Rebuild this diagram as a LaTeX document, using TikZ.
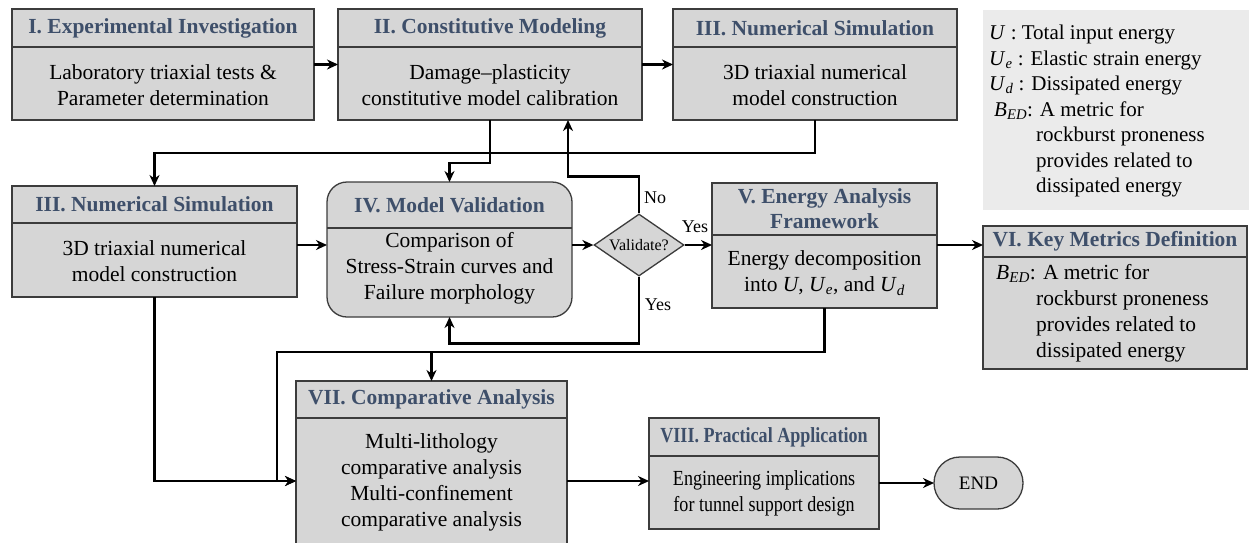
\documentclass[tikz,border=0pt]{standalone}
\usepackage{fontspec}
\setmainfont{Liberation Serif}
\newfontfamily\narrowserif{Liberation Serif}[FakeStretch=0.84]
\usetikzlibrary{arrows.meta,shapes.geometric}

\definecolor{hdrblue}{RGB}{62,79,106}
\definecolor{boxfill}{HTML}{D6D6D6}
\definecolor{boxline}{HTML}{3C3C3C}
\definecolor{notefill}{HTML}{EBEBEB}

\tikzset{
  box/.style={draw=boxline, line width=1.3pt, fill=boxfill, inner sep=0pt, outer sep=0pt},
  divider/.style={draw=boxline, line width=1.3pt},
  hdr/.style={font=\bfseries\fontsize{21.5}{25}\selectfont, text=hdrblue, align=center, inner sep=0pt},
  txt/.style={font=\fontsize{21.5}{26}\selectfont, align=center, inner sep=0pt},
  lbl/.style={font=\fontsize{18}{20}\selectfont, inner sep=0pt},
  arr/.style={line width=2.4pt, -{Stealth[length=11pt,width=10pt,inset=3.5pt]}},
}

% stage box: name, x1, y1, x2, y2, divider y, header, body, body centre y
\newcommand\stagebox[9]{%
  \pgfmathsetmacro\sbw{#4-#2}%
  \pgfmathsetmacro\sbh{#5-#3}%
  \node[box, minimum width=\sbw pt, minimum height=\sbh pt] (#1) at ({(#2+#4)/2},{(#3+#5)/2}) {};
  \draw[divider] (#2,#6) -- (#4,#6);
  \node[hdr] (#1h) at ({(#2+#4)/2},{(#3+#6)/2}) {#7};
  \node[txt] (#1b) at ({(#2+#4)/2},#9) {#8};
}

\newcommand\ital[1]{\textit{#1}}
\newcommand\subit[2]{\textit{#1}\textsubscript{\textit{#2}}}

\begin{document}
\begin{tikzpicture}[x=1pt, y=-1pt]
  \path[fill=white, use as bounding box] (0,0) rectangle (1249,542);

  % top row
  \stagebox{s1}{12}{9}{314}{120}{47}{I. Experimental Investigation}{Laboratory triaxial tests \&\\Parameter determination}{85}
  \stagebox{s2}{338}{9}{642}{120}{47}{II. Constitutive Modeling}{Damage--plasticity\\constitutive model calibration}{85}
  \stagebox{s3a}{673}{9}{957}{120}{47}{III. Numerical Simulation}{3D triaxial numerical\\model construction}{85}

  % notation panel
  \node[fill=notefill, minimum width=266pt, minimum height=200pt, anchor=north west, inner sep=0pt] (note) at (983,10) {};
  \node[anchor=north west, inner sep=0pt, align=left, font=\fontsize{21}{25.5}\selectfont] (notetext) at (989,25)
    {\ital{U} : Total input energy\\
     \subit{U}{e} : Elastic strain energy\\
     \subit{U}{d} : Dissipated energy\\
     \hspace*{5pt}\subit{B}{ED}: A metric for\\
     \hspace*{47pt}rockburst proneness\\
     \hspace*{47pt}provides related to\\
     \hspace*{47pt}dissipated energy};

  % middle row
  \stagebox{s3b}{12}{186}{297}{297}{223}{III. Numerical Simulation}{3D triaxial numerical\\model construction}{261}

  \node[box, rounded corners=20pt, minimum width=245pt, minimum height=135pt] (s4) at (449.5,249.5) {};
  \draw[divider] (327,228) -- (572,228);
  \node[hdr] (s4h) at (449.5,205) {IV. Model Validation};
  \node[txt] (s4b) at (449.5,268.5) {Comparison of\\Stress-Strain curves and\\Failure morphology};

  \node[diamond, draw=boxline, fill=boxfill, line width=1.3pt, minimum width=90pt, minimum height=62pt,
        inner sep=0pt, aspect=1.45, font=\fontsize{16}{18}\selectfont] (dia) at (639,245) {Validate?};

  \stagebox{s5}{712}{183}{937}{308}{235}{V. Energy Analysis\\Framework}{Energy decomposition\\into \ital{U}, \subit{U}{e}, and \subit{U}{d}}{273}

  \stagebox{s6}{983}{226}{1247}{369}{257}{VI. Key Metrics Definition}{}{313}
  \node[txt, anchor=west, align=left] (s6t) at (996,313)
    {\subit{B}{ED}: A metric for\\
     \hspace*{40pt}rockburst proneness\\
     \hspace*{40pt}provides related to\\
     \hspace*{40pt}dissipated energy};

  % bottom row
  \stagebox{s7}{296}{381}{567}{581}{418}{VII. Comparative Analysis}{Multi-lithology\\comparative analysis\\Multi-confinement\\comparative analysis}{482}
  \stagebox{s8}{649}{418}{879}{529}{456}{\narrowserif\bfseries VIII. Practical Application}{\narrowserif Engineering implications\\\narrowserif for tunnel support design}{493}
  \node[box, rounded corners=25.9pt, minimum width=89pt, minimum height=52pt, font=\fontsize{19}{22}\selectfont] (fin) at (978.5,483) {END};

  % junctions on the return line
  \coordinate (j1) at (277,352);
  \coordinate (j2) at (431.5,352);

  % connectors
  \draw[arr] (s1.east) -- (s2.west);
  \draw[arr] (s2.east) -- (s3a.west);
  \draw[arr] (s3a.south) -- ++(0,33) -| (s3b.north);
  \draw[arr] (s2.south) -- ++(0,43) -| (s4.north);
  \draw[arr] (s3b.east |- dia) -- (s4.west |- dia);
  \draw[arr] (s4.east |- dia) -- (dia.west);
  \draw[arr] (dia.east) -- (s5.west |- dia);
  \draw[arr] (dia.north) -- ++(0,-37) -| ([xshift=78pt]s2.south);
  \draw[arr] (dia.south) -- ++(0,67) -| (s4.south);
  \draw[arr] (s5.east |- dia) -- (s6.west |- dia);
  \draw[arr] (s5.south) |- (j1) |- (s7.west);
  \draw[arr] (j2) -- (j2 |- s7.north);
  \draw[arr] (s3b.south) |- (s7.west);
  \draw[arr] (s7.east) -- (s7.east -| s8.west);
  \draw[arr] (s8.east |- fin) -- (fin.west);

  % branch labels
  \node[lbl] (lno) at (655,198) {No};
  \node[lbl] (lyes1) at (695,227) {Yes};
  \node[lbl] (lyes2) at (658,305) {Yes};
\end{tikzpicture}
\end{document}
